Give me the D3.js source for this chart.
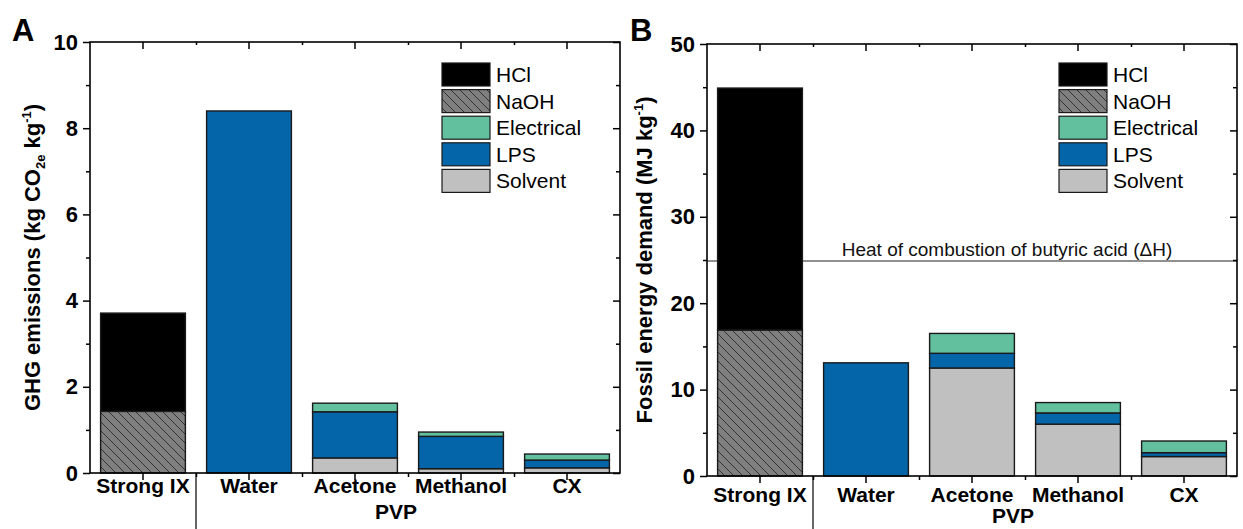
<!DOCTYPE html>
<html>
<head>
<meta charset="utf-8">
<script src="https://cdn.jsdelivr.net/npm/d3@7"></script>
<style>
  body { margin: 0; background: #fff; }
  svg { display: block; font-family: Arial, "Liberation Sans", sans-serif; }
</style>
</head>
<body>
<div id="chart"></div>
<script>
//Datos
const categories = ['Strong IX', 'Water', 'Acetone', 'Methanol', 'CX'];
const legendOrder = ['HCl', 'NaOH', 'Electrical', 'LPS', 'Solvent'];
const stackOrder = ['NaOH', 'Solvent', 'LPS', 'Electrical', 'HCl'];

//Panel A: GHG (kg CO2e kg-1)
const ghgSolvent = [0, 0, 0.35, 0.10, 0.12];
const ghgLPS = [0, 8.4, 1.07, 0.75, 0.18];
const ghgElectrical = [0, 0, 0.20, 0.10, 0.14];
const ghgNaOH = [1.43, 0, 0, 0, 0];
const ghgHCl = [2.28, 0, 0, 0, 0];
const ghgMajorTicks = [0, 2, 4, 6, 8, 10];
const ghgMinorTicks = [1, 3, 5, 7, 9];

//Panel B: energía fósil (MJ kg-1)
const fedSolvent = [0, 0, 12.5, 6.0, 2.25];
const fedLPS = [0, 13.1, 1.7, 1.3, 0.45];
const fedElectrical = [0, 0, 2.3, 1.2, 1.35];
const fedNaOH = [16.9, 0, 0, 0, 0];
const fedHCl = [28.0, 0, 0, 0, 0];
const fedMajorTicks = [0, 10, 20, 30, 40, 50];
const fedMinorTicks = [5, 15, 25, 35, 45];
const heatOfCombustion = 25;

//Colores
const COLORS = {
    HCl: '#000000',
    NaOH: 'url(#hatch)',
    Electrical: '#62c09f',
    LPS: '#0565a9',
    Solvent: '#c0c0c0'
};

function buildRows(solvent, lps, elec, naoh, hcl) {
    return categories.map(function(c, i) {
        return { cat: c, Solvent: solvent[i], LPS: lps[i], Electrical: elec[i], NaOH: naoh[i], HCl: hcl[i] };
    });
}

let svg = d3.select('#chart').append('svg')
    .attr('width', 1243)
    .attr('height', 529);

//Patrón rayado NaOH
let pat = svg.append('defs').append('pattern')
    .attr('id', 'hatch')
    .attr('patternUnits', 'userSpaceOnUse')
    .attr('width', 9).attr('height', 9);
pat.append('rect').attr('width', 9).attr('height', 9).attr('fill', '#7f7f7f');
pat.append('path')
    .attr('d', 'M-2,-2 L11,11 M-2,7 L2,11 M7,-2 L11,2')
    .attr('stroke', '#2a2a2a').attr('stroke-width', 0.9);

function drawPanel(opt) {
    let g = svg.append('g').attr('transform', 'translate(' + opt.left + ',' + opt.top + ')');
    let width = opt.width, height = opt.height;

    let x = d3.scaleBand().domain(categories).range([0, width]).paddingInner(0.2).paddingOuter(0.1);
    let y = d3.scaleLinear().domain([0, opt.max]).range([height, 0]);
    let step = x.step();
    let boundaries = categories.slice(1).map(function(c) { return x(c) - step * 0.1; });

    //Línea de referencia (debajo de las barras)
    if (opt.refLine !== undefined) {
        g.append('line')
            .attr('x1', 0).attr('x2', width)
            .attr('y1', y(opt.refLine) + 1).attr('y2', y(opt.refLine) + 1)
            .attr('stroke', '#222').attr('stroke-width', 1.2);
        g.append('text')
            .attr('x', x('Acetone') + x.bandwidth() / 2 + 35)
            .attr('y', y(opt.refLine) - 4)
            .attr('text-anchor', 'middle')
            .attr('font-size', 19)
            .attr('fill', '#111')
            .text(opt.refLabel);
    }

    //Barras apiladas
    let series = d3.stack().keys(stackOrder)(opt.rows);
    series.forEach(function(s) {
        g.selectAll(null)
            .data(s.filter(function(d) { return d[1] - d[0] > 0; }))
            .enter().append('rect')
            .attr('x', function(d) { return x(d.data.cat); })
            .attr('width', x.bandwidth())
            .attr('y', function(d) { return y(d[1]); })
            .attr('height', function(d) { return y(d[0]) - y(d[1]); })
            .attr('fill', COLORS[s.key])
            .attr('stroke', '#1a1a1a')
            .attr('stroke-width', 1.4);
    });

    //Ejes Y
    let yLeft = g.append('g').call(d3.axisLeft(y).tickValues(opt.major).tickSize(7).tickPadding(5).tickFormat(d3.format('d')));
    g.append('g').call(d3.axisLeft(y).tickValues(opt.minor).tickSize(4).tickFormat(''));
    g.append('g').attr('transform', 'translate(' + width + ',0)')
        .call(d3.axisLeft(y).tickValues(opt.major).tickSize(7).tickFormat(''));
    g.append('g').attr('transform', 'translate(' + width + ',0)')
        .call(d3.axisLeft(y).tickValues(opt.minor).tickSize(4).tickFormat(''));
    yLeft.selectAll('text').attr('font-size', 22).attr('font-weight', 'bold').attr('fill', '#000');

    //Ejes X
    let xBottom = g.append('g').attr('transform', 'translate(0,' + height + ')')
        .call(d3.axisBottom(x).tickSize(7).tickPadding(opt.labelPad));
    xBottom.selectAll('text').attr('font-size', 21).attr('font-weight', 'bold').attr('fill', '#000');
    g.append('g').attr('transform', 'translate(0,' + height + ')')
        .call(d3.axisBottom(d3.scaleLinear().range([0, width])).tickValues(boundaries.map(function(b) { return b / width; })).tickSize(4).tickFormat(''));
    g.append('g').call(d3.axisBottom(x).tickSize(7).tickFormat(''))
        .selectAll('line').attr('y2', 7);
    g.append('g').call(d3.axisBottom(d3.scaleLinear().range([0, width])).tickValues(boundaries.map(function(b) { return b / width; })).tickSize(3).tickFormat(''));

    g.selectAll('.domain').remove();
    g.selectAll('.tick line').attr('stroke', '#000').attr('stroke-width', 1.5);

    //Marco
    g.append('rect').attr('width', width).attr('height', height)
        .attr('fill', 'none').attr('stroke', '#000').attr('stroke-width', 1.6);

    //Separador Strong IX | PVP
    g.append('line')
        .attr('x1', boundaries[0]).attr('x2', boundaries[0])
        .attr('y1', height).attr('y2', 529 - opt.top)
        .attr('stroke', '#000').attr('stroke-width', 1.2);

    g.append('text')
        .attr('x', boundaries[2] - 12)
        .attr('y', height + opt.pvpY)
        .attr('text-anchor', 'middle')
        .attr('font-size', 21).attr('font-weight', 'bold')
        .text('PVP');

    //Título del eje Y
    let title = g.append('text')
        .attr('transform', 'translate(' + opt.titleX + ',' + (height / 2) + ') rotate(-90)')
        .attr('text-anchor', 'middle')
        .attr('font-size', 22).attr('font-weight', 'bold');
    opt.title.forEach(function(part) {
        let t = title.append('tspan').text(part.t);
        if (part.sub) t.attr('font-size', 13).attr('dy', 5);
        if (part.sup) t.attr('font-size', 13).attr('dy', -9);
        if (part.reset) t.attr('dy', part.reset);
    });

    //Letra del panel
    svg.append('text')
        .attr('x', opt.letterX).attr('y', 41)
        .attr('font-size', 31).attr('font-weight', 'bold')
        .text(opt.letter);

    //Leyenda
    let leg = g.append('g').attr('transform', 'translate(' + (width - 178) + ',' + (63 - opt.top) + ')');
    legendOrder.forEach(function(k, i) {
        leg.append('rect')
            .attr('x', 0).attr('y', i * 26.6)
            .attr('width', 48).attr('height', 23)
            .attr('fill', COLORS[k]).attr('stroke', '#1a1a1a').attr('stroke-width', 1.2);
        leg.append('text')
            .attr('x', 54).attr('y', i * 26.6 + 19)
            .attr('font-size', 21)
            .text(k);
    });
}

drawPanel({
    left: 90, top: 42, width: 530, height: 431, max: 10,
    rows: buildRows(ghgSolvent, ghgLPS, ghgElectrical, ghgNaOH, ghgHCl),
    major: ghgMajorTicks, minor: ghgMinorTicks,
    labelPad: -2, pvpY: 46, titleX: -50, letter: 'A', letterX: 12,
    title: [{ t: 'GHG emissions (kg CO' }, { t: '2e', sub: true }, { t: ' kg', reset: -5 }, { t: '-1', sup: true }, { t: ')', reset: 9 }]
});

drawPanel({
    left: 707, top: 44, width: 530, height: 432, max: 50,
    rows: buildRows(fedSolvent, fedLPS, fedElectrical, fedNaOH, fedHCl),
    major: fedMajorTicks, minor: fedMinorTicks,
    labelPad: 4, pvpY: 47, titleX: -55, letter: 'B', letterX: 630,
    refLine: heatOfCombustion, refLabel: 'Heat of combustion of butyric acid (\u0394H)',
    title: [{ t: 'Fossil energy demand (MJ kg' }, { t: '-1', sup: true }, { t: ')', reset: 9 }]
});
</script>
</body>
</html>
